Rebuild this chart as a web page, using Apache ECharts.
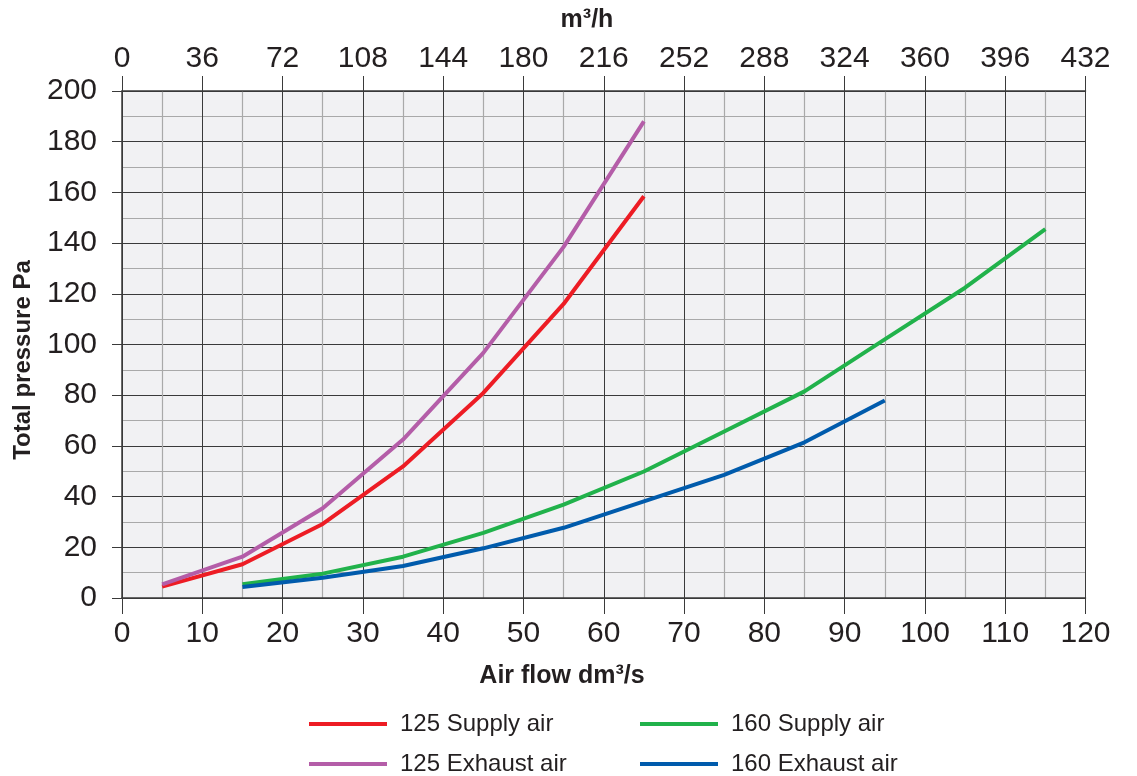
<!DOCTYPE html>
<html>
<head>
<meta charset="utf-8">
<script src="https://cdn.jsdelivr.net/npm/echarts@6/dist/echarts.min.js"></script>
<style>
html,body{margin:0;padding:0;background:#fff;}
#chart{width:1137px;height:776px;}
</style>
</head>
<body>
<div id="chart"></div>
<script>
// Air flow (dm³/s) sample points
var xs125 = [5, 15, 25, 35, 45, 55, 65];
var xs160Supply = [15, 25, 35, 45, 55, 65, 75, 85, 95, 105, 115];
var xs160Exhaust = [15, 25, 35, 45, 55, 65, 75, 85, 95];
// Total pressure (Pa)
var supply125 = [4.5, 13.3, 29.2, 51.9, 80.9, 116, 158.5];
var exhaust125 = [5.4, 16.3, 35.4, 62.5, 96.7, 138.5, 188];
var supply160 = [5.4, 9.6, 16.3, 25.7, 36.8, 49.9, 65.7, 81.5, 102, 122.4, 145.5];
var exhaust160 = [4.3, 8, 12.6, 19.6, 27.7, 38.1, 48.6, 61.4, 77.9];
var seriesNames = ['125 Supply air', '125 Exhaust air', '160 Supply air', '160 Exhaust air'];
var seriesColors = ['#ED1C24', '#B45DA8', '#21B24B', '#005BAC'];

function pairs(xs, ys) { return xs.map(function (x, i) { return [x, ys[i]]; }); }

var FONT = '"Liberation Sans", Arial, Helvetica, sans-serif';
var TXT = '#231f20';
var MAJOR = '#3a3a3a';
var MINOR = '#a9a9a9';

var chart = echarts.init(document.getElementById('chart'), null, {renderer: 'canvas'});
var lineSeries = [
  pairs(xs125, supply125), pairs(xs125, exhaust125),
  pairs(xs160Supply, supply160), pairs(xs160Exhaust, exhaust160)
].map(function (d, i) {
  return {
    name: seriesNames[i], type: 'line', data: d, xAxisIndex: 0, yAxisIndex: 0,
    symbol: 'none', smooth: false, color: seriesColors[i],
    lineStyle: {width: 4, color: seriesColors[i], join: 'round', cap: 'butt'},
    z: 3
  };
});

function legendFor(names, left) {
  return {
    orient: 'vertical', left: left, top: 712, padding: 0, itemWidth: 78, itemHeight: 4, itemGap: 16,
    icon: 'rect', data: names,
    textStyle: {fontSize: 24, color: TXT, fontFamily: FONT, lineHeight: 22, padding: [0, 0, 0, 8]},
    selectedMode: false
  };
}

chart.setOption({
  animation: false,
  textStyle: {fontFamily: FONT},
  grid: {left: 122, right: 51.5, top: 91, bottom: 178, show: true, backgroundColor: '#f1f1f3', borderWidth: 0, containLabel: false},
  xAxis: [{
    type: 'value', position: 'bottom', min: 0, max: 120, interval: 10,
    axisLine: {show: true, onZero: false, lineStyle: {color: MAJOR, width: 1.5}},
    axisTick: {show: true, length: 16, lineStyle: {color: MAJOR, width: 1}},
    axisLabel: {fontSize: 30, color: TXT, margin: 21, fontFamily: FONT},
    splitLine: {show: true, lineStyle: {color: MAJOR, width: 1}},
    minorTick: {show: false, splitNumber: 2},
    minorSplitLine: {show: true, lineStyle: {color: MINOR, width: 1.2}}
  }, {
    type: 'value', position: 'top', min: 0, max: 432, interval: 36,
    axisLine: {show: true, onZero: false, lineStyle: {color: MAJOR, width: 1.5}},
    axisTick: {show: true, length: 15, lineStyle: {color: MAJOR, width: 1}},
    axisLabel: {fontSize: 30, color: TXT, margin: 17, fontFamily: FONT},
    splitLine: {show: false}
  }],
  yAxis: [{
    type: 'value', min: 0, max: 200, interval: 20,
    axisLine: {show: true, onZero: false, lineStyle: {color: MAJOR, width: 1.5}},
    axisTick: {show: true, length: 10, lineStyle: {color: MAJOR, width: 1}},
    axisLabel: {fontSize: 30, color: TXT, margin: 25, fontFamily: FONT},
    splitLine: {show: true, lineStyle: {color: MAJOR, width: 1}},
    minorTick: {show: false, splitNumber: 2},
    minorSplitLine: {show: true, lineStyle: {color: MINOR, width: 1.2}}
  }],
  legend: [legendFor([seriesNames[0], seriesNames[1]], 309), legendFor([seriesNames[2], seriesNames[3]], 640)],
  graphic: [{
    type: 'text', x: 587, y: 20,
    style: {text: 'm³/h', fill: TXT, font: 'bold 25px ' + FONT, textAlign: 'center', textVerticalAlign: 'middle'}
  }, {
    type: 'text', x: 562, y: 676,
    style: {text: 'Air flow dm³/s', fill: TXT, font: 'bold 25px ' + FONT, textAlign: 'center', textVerticalAlign: 'middle'}
  }, {
    type: 'text', x: 23, y: 360, rotation: Math.PI / 2,
    style: {text: 'Total pressure Pa', fill: TXT, font: 'bold 24px ' + FONT, textAlign: 'center', textVerticalAlign: 'middle'}
  }],
  series: lineSeries
});
</script>
</body>
</html>
